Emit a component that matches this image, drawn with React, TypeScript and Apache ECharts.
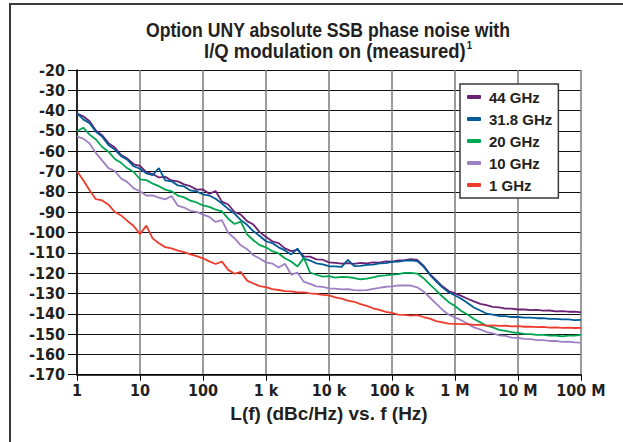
import React, { useEffect, useRef } from "react";
import * as echarts from "echarts";

// frequency grid: 10 steps per decade, 1 Hz .. 100 MHz
const decadeSteps = [1, 1.259, 1.585, 1.995, 2.512, 3.162, 3.981, 5.012, 6.31, 7.943];
const decades = [1, 10, 100, 1e3, 1e4, 1e5, 1e6, 1e7];
const lastFreq = 1e8;

const titleLine1 = "Option UNY absolute SSB phase noise with";
const titleLine2 = "I/Q modulation on (measured)";
const titleNote = "1";
const xAxisTitle = "L(f) (dBc/Hz) vs. f (Hz)";
const xTickLabels = ["1", "10", "100", "1 k", "10 k", "100 k", "1 M", "10 M", "100 M"];
const seriesNames = ["44 GHz", "31.8 GHz", "20 GHz", "10 GHz", "1 GHz"];
const seriesColors = ["#6b2273", "#005b96", "#00a651", "#9e80c3", "#ef3b2c"];

const ghz44 = [
  -41.5, -42.8, -45.2, -49.8, -52.2, -56.0, -58.2, -61.9, -63.6, -66.4,
  -67.2, -70.3, -71.2, -72.9, -72.6, -74.4, -74.8, -76.3, -77.2, -78.9,
  -78.8, -80.9, -79.6, -84.8, -86.2, -89.9, -91.2, -94.4, -96.1, -99.8,
  -102.2, -104.3, -105.2, -107.8, -109.2, -108.5, -111.8, -111.9, -113.2, -113.4,
  -114.7, -114.9, -115.3, -115.1, -115.4, -115.0, -115.2, -114.7, -114.8, -114.2,
  -114.3, -113.7, -113.6, -113.1, -113.5, -116.3, -120.5, -123.5, -126.5, -128.8,
  -130.0, -131.2, -132.6, -133.9, -135.1, -135.7, -136.6, -136.9, -137.5, -137.5,
  -137.9, -137.9, -138.2, -138.1, -138.5, -138.4, -138.8, -138.7, -139.0, -138.9,
  -139.3,
];
const ghz31_8 = [
  -41.2, -44.3, -46.2, -50.4, -52.8, -56.9, -59.2, -62.4, -64.2, -67.4,
  -68.6, -70.9, -71.7, -68.3, -74.3, -74.8, -76.8, -77.3, -79.3, -79.8,
  -81.2, -81.8, -83.4, -85.7, -88.4, -90.7, -93.9, -96.2, -99.4, -101.7,
  -104.3, -105.2, -107.3, -108.8, -110.8, -107.9, -112.8, -113.8, -115.2, -115.7,
  -116.6, -116.7, -116.9, -113.5, -116.6, -116.4, -115.9, -115.8, -115.2, -115.1,
  -114.5, -114.3, -113.8, -113.7, -114.1, -116.8, -120.7, -124.0, -127.0, -129.4,
  -131.0, -132.6, -134.7, -136.9, -138.4, -139.9, -140.4, -141.1, -141.2, -141.6,
  -141.6, -141.9, -141.9, -142.2, -142.2, -142.5, -142.5, -142.8, -142.8, -143.1,
  -143.0,
];
const ghz20 = [
  -50.2, -48.4, -51.8, -54.2, -57.9, -60.2, -63.8, -65.7, -68.4, -70.2,
  -73.8, -74.2, -75.9, -77.2, -78.9, -79.7, -81.8, -82.7, -84.3, -85.2,
  -86.7, -87.4, -88.7, -89.6, -93.2, -95.8, -94.6, -100.9, -103.8, -106.2,
  -107.3, -109.2, -110.3, -112.7, -114.3, -116.7, -112.5, -119.7, -120.8, -121.7,
  -121.5, -122.2, -121.8, -122.0, -122.4, -123.1, -122.7, -122.1, -121.4, -121.1,
  -120.7, -120.5, -119.9, -119.9, -120.2, -122.5, -125.5, -128.5, -131.5, -134.3,
  -136.2, -138.6, -140.4, -142.6, -144.2, -145.9, -146.7, -147.9, -148.4, -149.1,
  -149.4, -149.9, -150.0, -150.4, -150.4, -150.8, -150.7, -151.1, -150.8, -150.8,
  -150.4,
];
const ghz10 = [
  -52.8, -53.8, -56.2, -60.8, -64.6, -68.3, -69.7, -73.4, -75.2, -78.3,
  -79.7, -81.8, -81.7, -82.8, -83.7, -82.0, -86.8, -87.7, -89.3, -89.8,
  -91.2, -92.3, -94.8, -93.9, -100.2, -102.8, -106.3, -108.2, -111.2, -112.8,
  -114.7, -115.3, -117.2, -115.4, -120.7, -119.8, -124.2, -125.3, -126.5, -126.8,
  -127.5, -127.6, -128.0, -127.9, -128.4, -128.5, -128.4, -127.7, -127.3, -126.7,
  -126.5, -126.0, -126.1, -126.1, -127.0, -129.0, -132.0, -135.0, -138.0, -140.5,
  -141.8, -143.2, -144.9, -146.7, -147.7, -149.0, -149.6, -150.6, -150.9, -151.7,
  -151.9, -152.4, -152.5, -153.0, -153.0, -153.4, -153.4, -153.8, -153.7, -154.1,
  -154.2,
];
const ghz1 = [
  -69.8, -74.3, -79.2, -83.6, -84.2, -86.3, -89.9, -91.6, -94.3, -96.8,
  -100.8, -96.6, -102.9, -105.3, -107.2, -107.8, -108.9, -109.7, -110.8, -111.6,
  -112.7, -114.2, -115.5, -114.3, -118.4, -120.3, -119.4, -123.7, -125.1, -126.4,
  -126.9, -127.9, -128.3, -128.9, -129.0, -129.5, -129.5, -130.0, -130.2, -130.7,
  -130.9, -131.9, -132.5, -133.5, -134.1, -135.3, -136.1, -137.3, -138.1, -139.1,
  -139.6, -140.4, -140.5, -140.9, -140.7, -141.6, -142.4, -143.6, -144.2, -144.9,
  -145.0, -145.1, -145.1, -145.5, -145.4, -145.8, -145.7, -146.0, -145.9, -146.2,
  -146.1, -146.4, -146.3, -146.6, -146.5, -146.8, -146.7, -146.9, -146.8, -147.0,
  -146.9,
];
const seriesValues = [ghz44, ghz31_8, ghz20, ghz10, ghz1];

const freqs: number[] = decades.flatMap((d) => decadeSteps.map((s) => d * s)).concat([lastFreq]);

const FONT_NUM = '"DejaVu Sans Condensed", "DejaVu Sans", sans-serif';
const FONT_TXT = '"Liberation Sans", Arial, sans-serif';
const TXT = "#231f20";

export default function App() {
  const ref = useRef<HTMLDivElement>(null);
  useEffect(() => {
    if (!ref.current) return;
    const chart = echarts.init(ref.current, undefined, { renderer: "svg" });
    chart.setOption({
      animation: false,
      backgroundColor: "#ffffff",
      graphic: [
        {
          type: "polyline",
          shape: { points: [[10, 442], [10, 4], [623, 4]] },
          style: { stroke: "#3c3c3c", lineWidth: 2, fill: "none" },
          silent: true,
        },
        {
          type: "text",
          x: 328,
          y: 29.5,
          scaleX: 0.84,
          style: {
            text: titleLine1,
            font: `bold 21px ${FONT_TXT}`,
            fill: TXT,
            align: "center",
            verticalAlign: "middle",
          },
          silent: true,
        },
        {
          type: "text",
          x: 338,
          y: 50.5,
          scaleX: 0.88,
          style: {
            text: `{m|${titleLine2}}{s|${titleNote}}`,
            fill: TXT,
            align: "center",
            verticalAlign: "middle",
            rich: {
              m: { font: `bold 21px ${FONT_TXT}`, fill: TXT, lineHeight: 21 },
              s: { font: `bold 11px ${FONT_TXT}`, fill: TXT, lineHeight: 21, verticalAlign: "top", padding: [0, 0, 0, 1] },
            },
          },
          silent: true,
        },
      ],
      legend: {
        orient: "vertical",
        left: 460,
        top: 84,
        backgroundColor: "#ffffff",
        borderColor: "#3a3a3a",
        borderWidth: 1.5,
        padding: [5, 6, 5, 7],
        itemGap: 6,
        itemWidth: 14,
        itemHeight: 4,
        icon: "roundRect",
        textStyle: {
          fontFamily: FONT_TXT,
          fontSize: 15,
          fontWeight: "bold",
          color: TXT,
          lineHeight: 16,
          padding: [0, 0, 0, 3],
        },
        data: seriesNames,
      },
      grid: { left: 77, right: 42, top: 70, bottom: 67.3, containLabel: false },
      xAxis: {
        type: "log",
        logBase: 10,
        min: 1,
        max: 1e8,
        axisLine: { show: true, lineStyle: { color: "#000", width: 1.5 } },
        axisTick: { show: true, length: 6, lineStyle: { color: "#000" } },
        minorTick: { show: false },
        axisLabel: {
          formatter: (v: number) => xTickLabels[Math.round(Math.log10(v))] ?? "",
          fontFamily: FONT_NUM,
          fontSize: 16,
          fontWeight: "bold",
          color: TXT,
          margin: 8,
        },
        splitLine: { show: true, lineStyle: { color: "#7a7a7a", width: 1.5 } },
        name: xAxisTitle,
        nameLocation: "middle",
        nameGap: 28,
        nameTextStyle: { fontFamily: FONT_TXT, fontSize: 19, fontWeight: "bold", color: TXT },
      },
      yAxis: {
        type: "value",
        min: -170,
        max: -20,
        interval: 10,
        axisLine: { show: true, lineStyle: { color: "#000", width: 1.5 } },
        axisTick: { show: true, length: 9, lineStyle: { color: "#000" } },
        axisLabel: {
          fontFamily: FONT_NUM,
          fontSize: 16,
          fontWeight: "bold",
          color: TXT,
          margin: 12,
        },
        splitLine: { show: true, lineStyle: { color: "#111", width: 1 } },
      },
      series: seriesNames.map((name, k) => ({
        name,
        type: "line",
        showSymbol: false,
        symbol: "none",
        color: seriesColors[k],
        lineStyle: { width: 1.8, color: seriesColors[k] },
        data: freqs.map((f, i) => [f, seriesValues[k][i]]),
      })),
    });
    return () => chart.dispose();
  }, []);
  return (
    <div
      ref={ref}
      style={{ position: "absolute", left: 0, top: 0, width: 623, height: 442, background: "#fff" }}
    />
  );
}
